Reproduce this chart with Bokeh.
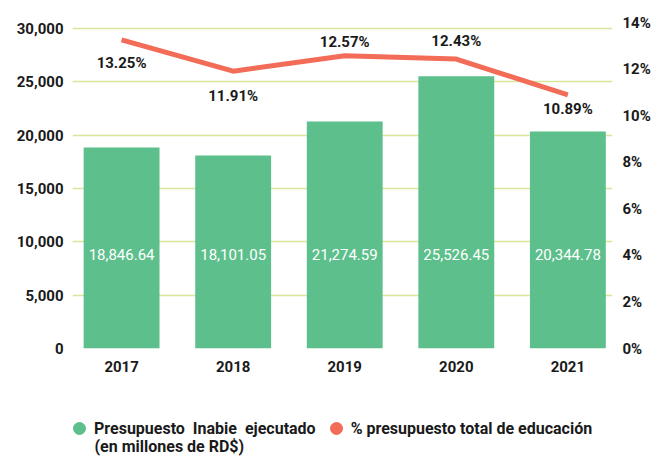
from bokeh.plotting import figure
from bokeh.layouts import column
from bokeh.models import (Range1d, LinearAxis, FixedTicker, NumeralTickFormatter,
                          ColumnDataSource, Legend, LegendItem, Label)
from bokeh.core.properties import value
from bokeh.embed import file_html
from bokeh.resources import INLINE

years = ["2017", "2018", "2019", "2020", "2021"]
budget = [18846.64, 18101.05, 21274.59, 25526.45, 20344.78]
budget_labels = ["18,846.64", "18,101.05", "21,274.59", "25,526.45", "20,344.78"]
share = [13.25, 11.91, 12.57, 12.43, 10.89]
share_labels = ["13.25%", "11.91%", "12.57%", "12.43%", "10.89%"]
left_ticks = [0, 5000, 10000, 15000, 20000, 25000, 30000]
right_ticks = [0, 2, 4, 6, 8, 10, 12, 14]
right_tick_labels = ["0%", "2%", "4%", "6%", "8%", "10%", "12%", "14%"]
legend_labels = ["Presupuesto  Inabie  ejecutado", "% presupuesto total de educación"]
legend_sublabel = "(en millones de RD$)"

# styling
label_offsets = [23, 25, -14, -18, 14]   # pixel offsets of the % labels
GREEN = "#5dbf8b"
RED = "#f26c58"
GRID = "#d5e79b"
TXT = "#1a1a1a"
FONT = "Roboto"

xs = list(range(len(years)))

p = figure(width=653, height=400, output_backend="svg",
           toolbar_location=None, x_range=Range1d(-0.44, 4.40),
           y_range=Range1d(0, 30562), min_border_left=72, min_border_top=22,
           min_border_right=40, min_border_bottom=52)
p.outline_line_color = None
p.xgrid.grid_line_color = None
p.ygrid.grid_line_color = GRID
p.ygrid.grid_line_width = 1.5
p.ygrid.ticker = FixedTicker(ticks=left_ticks)

p.extra_y_ranges = {"pct": Range1d(0, 14)}

bar_src = ColumnDataSource(dict(x=xs, top=budget, lab=budget_labels))
p.vbar(x="x", top="top", width=0.68, source=bar_src, color=GREEN, line_color=None)
p.text(x="x", y=0, text="lab", source=bar_src, y_offset=-94, text_align="center",
       text_baseline="middle", text_color="white", text_font=value(FONT),
       text_font_size="15px")

line_src = ColumnDataSource(dict(x=xs, y=share, lab=share_labels, off=label_offsets))
p.line(x="x", y="y", source=line_src, y_range_name="pct", color=RED, line_width=5)
p.text(x="x", y="y", text="lab", source=line_src, y_range_name="pct", y_offset="off",
       text_align="center", text_baseline="middle", text_color=TXT,
       text_font=value(FONT), text_font_size="15px", text_font_style="bold")

# axes
rax = LinearAxis(y_range_name="pct", ticker=FixedTicker(ticks=right_ticks),
                 major_label_overrides={t: l for t, l in zip(right_ticks, right_tick_labels)})
p.add_layout(rax, "right")
for ax in [p.xaxis[0], p.yaxis[0], rax]:
    ax.axis_line_color = None
    ax.major_tick_line_color = None
    ax.minor_tick_line_color = None
    ax.major_tick_out = 0
    ax.minor_tick_out = 0
    ax.major_label_text_font = FONT
    ax.major_label_text_font_size = "15px"
    ax.major_label_text_font_style = "bold"
    ax.major_label_text_color = TXT

p.xaxis.ticker = FixedTicker(ticks=xs)
p.xaxis.major_label_overrides = {i: y for i, y in enumerate(years)}
p.xaxis.major_label_standoff = 12
p.yaxis[0].ticker = FixedTicker(ticks=left_ticks)
p.yaxis[0].formatter = NumeralTickFormatter(format="0,0")
p.yaxis[0].major_label_standoff = 9
rax.major_label_standoff = 10

# legend strip (a separate small figure so the legend is not clipped)
lf = figure(width=653, height=57, output_backend="svg", toolbar_location=None,
            x_range=Range1d(0, 1), y_range=Range1d(0, 1), min_border=0,
            x_axis_location=None, y_axis_location=None)
lf.grid.visible = False
lf.outline_line_color = None
# legend key renderers, kept outside the visible range
g1 = lf.scatter(x=[-1], y=[-1], marker="circle", size=13, color=GREEN)
g2 = lf.scatter(x=[-1], y=[-1], marker="circle", size=13, color=RED)
legend = Legend(items=[LegendItem(label=legend_labels[0], renderers=[g1]),
                       LegendItem(label=legend_labels[1], renderers=[g2])],
                orientation="horizontal", location=(-8, 14), border_line_color=None,
                label_text_font=FONT, label_text_font_size="16px", label_text_color=TXT,
                label_text_font_style="bold", glyph_width=30, glyph_height=30,
                label_standoff=0, spacing=5, margin=0, padding=0)
legend.background_fill_alpha = 0
lf.add_layout(legend, "center")
lf.add_layout(Label(x=22, y=11, x_units="screen", y_units="screen", text=legend_sublabel,
                    text_font=FONT, text_font_size="16px", text_font_style="bold",
                    text_color=TXT, text_baseline="middle"))

open("out.html", "w").write(file_html(column(p, lf, spacing=0), INLINE))
